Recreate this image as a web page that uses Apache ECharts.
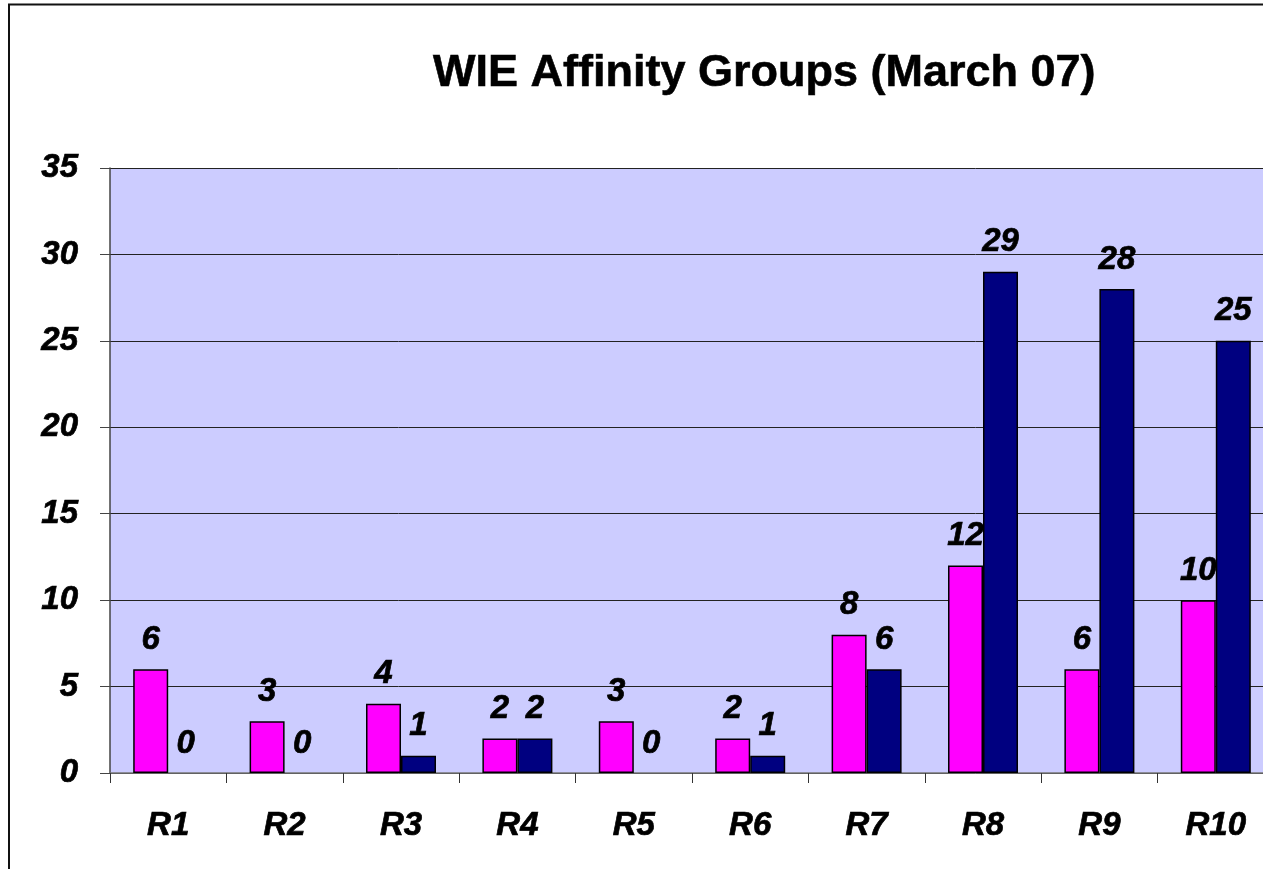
<!DOCTYPE html>
<html>
<head>
<meta charset="utf-8">
<script src="https://cdn.jsdelivr.net/npm/echarts@6/dist/echarts.min.js"></script>
<style>
  html, body { margin: 0; padding: 0; background: #fff; }
  #main { width: 1263px; height: 869px; }
</style>
</head>
<body>
<div id="main"></div>
<script>
// data
var regions = ['R1', 'R2', 'R3', 'R4', 'R5', 'R6', 'R7', 'R8', 'R9', 'R10'];
var pinkValues = [6, 3, 4, 2, 3, 2, 8, 12, 6, 10];
var navyValues = [0, 0, 1, 2, 0, 1, 6, 29, 28, 25];

var font = '"Liberation Sans", Arial, sans-serif';

var myChart = echarts.init(document.getElementById('main'));

// zero bars have no visible outline in the original
function toItems(values) {
    return values.map(function (v) {
        return v === 0 ? { value: v, itemStyle: { borderWidth: 0 } } : v;
    });
}

var labelStyle = {
    show: true,
    position: 'top',
    distance: 13,
    color: '#000',
    fontSize: 33,
    fontWeight: 'bold',
    fontStyle: 'italic',
    fontFamily: font,
    textBorderColor: '#000',
    textBorderWidth: 0.7
};

var axisText = {
    color: '#000',
    fontSize: 33,
    fontWeight: 'bold',
    fontStyle: 'italic',
    fontFamily: font,
    textBorderColor: '#000',
    textBorderWidth: 0.7
};

var option = {
    animation: false,
    backgroundColor: '#fff',
    title: {
        text: 'WIE Affinity Groups (March 07)',
        left: 428,
        top: 46,
        textStyle: {
            color: '#000',
            fontSize: 45,
            fontWeight: 'bold',
            fontFamily: font,
            textBorderColor: '#000',
            textBorderWidth: 0.6
        }
    },
    // outer chart border, cut off on the right and bottom
    graphic: [{
        type: 'rect',
        z: 100,
        shape: { x: 9, y: 4.5, width: 1400, height: 1000 },
        style: { fill: 'none', stroke: '#111', lineWidth: 2 }
    }],
    grid: {
        left: 110,
        top: 168,
        width: 1164,
        height: 605,
        outerBoundsMode: 'none',
        containLabel: false,
        show: true,
        backgroundColor: '#CCCCFF',
        borderWidth: 0
    },
    xAxis: {
        type: 'category',
        data: regions,
        axisLine: { lineStyle: { color: '#777', width: 1.5 } },
        axisTick: { show: true, length: 10, lineStyle: { color: '#333' } },
        axisLabel: Object.assign({ margin: 36 }, axisText)
    },
    yAxis: {
        type: 'value',
        min: 0,
        max: 35,
        interval: 5,
        axisLine: { show: true, lineStyle: { color: '#444', width: 1.5 } },
        axisTick: { show: true, length: 10, lineStyle: { color: '#444' } },
        splitLine: { lineStyle: { color: '#222', width: 1 } },
        axisLabel: Object.assign({ margin: 32 }, axisText)
    },
    series: [{
        name: 'pink',
        type: 'bar',
        data: toItems(pinkValues),
        barWidth: 35,
        barGap: '0%',
        itemStyle: { color: '#FF00FF', borderColor: '#000', borderWidth: 1.5 },
        label: labelStyle
    }, {
        name: 'navy',
        type: 'bar',
        data: toItems(navyValues),
        barWidth: 35,
        itemStyle: { color: '#000080', borderColor: '#000', borderWidth: 1.5 },
        label: labelStyle
    }]
};

myChart.setOption(option);
</script>
</body>
</html>
